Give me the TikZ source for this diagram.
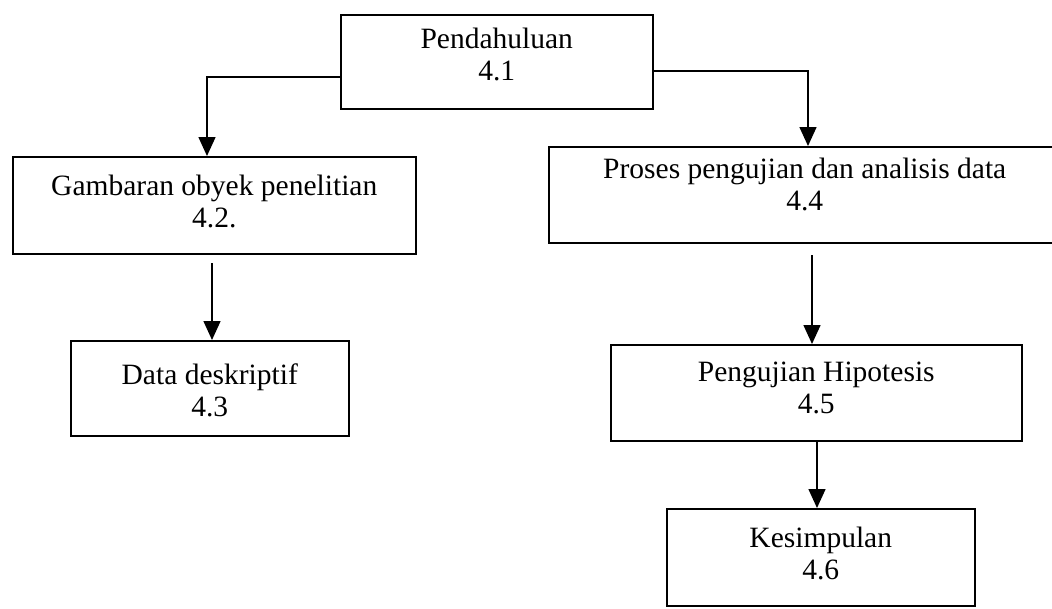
\documentclass[tikz,border=0pt]{standalone}
\usepackage{fontspec}
\setmainfont{Liberation Serif}
\usetikzlibrary{arrows.meta}
\begin{document}
\begin{tikzpicture}[x=1pt,y=-1pt,
  box/.style={draw, line width=1.5pt, inner sep=0pt, anchor=north west},
  lbl/.style={anchor=north, inner sep=0pt, align=center,
              font=\fontsize{29.5}{32}\selectfont},
  arr/.style={line width=1.5pt, -{Triangle[width=17pt,length=19pt]}}]
\useasboundingbox (0,0) rectangle (1052,608);

% boxes
\node[box, minimum width=312pt, minimum height=94pt] (b1) at (340,14) {};
\node[box, minimum width=403pt, minimum height=97pt] (b2) at (12,156) {};
\node[box, minimum width=512pt, minimum height=96pt] (b3) at (548,146) {};
\node[box, minimum width=278pt, minimum height=95pt] (b4) at (70,340) {};
\node[box, minimum width=411pt, minimum height=96pt] (b5) at (610,344) {};
\node[box, minimum width=308pt, minimum height=97pt] (b6) at (666,508) {};

% labels
\node[lbl] (t1) at ([yshift=-14pt]b1.north) {Pendahuluan\\4.1};
\node[lbl] (t2) at ([yshift=-19pt]b2.north) {Gambaran obyek penelitian\\4.2.};
\node[lbl] (t3) at ([yshift=-12pt]b3.north) {Proses pengujian dan analisis data\\4.4};
\node[lbl] (t4) at ([yshift=-24pt]b4.north) {Data deskriptif\\4.3};
\node[lbl] (t5) at ([yshift=-18pt]b5.north) {Pengujian Hipotesis\\4.5};
\node[lbl] (t6) at ([yshift=-19pt]b6.north) {Kesimpulan\\4.6};

% connectors
\coordinate (k1) at (207,77);
\draw[arr] (b1.west |- k1) -- (k1) -- (k1 |- b2.north);
\coordinate (k2) at (808,71);
\draw[arr] (b1.east |- k2) -- (k2) -- (k2 |- b3.north);
\coordinate (k3) at (212,263);
\draw[arr] (k3) -- (k3 |- b4.north);
\coordinate (k4) at (812,255);
\draw[arr] (k4) -- (k4 |- b5.north);
\coordinate (k5) at (817,440);
\draw[arr] (k5 |- b5.south) -- (k5 |- b6.north);
\end{tikzpicture}
\end{document}
